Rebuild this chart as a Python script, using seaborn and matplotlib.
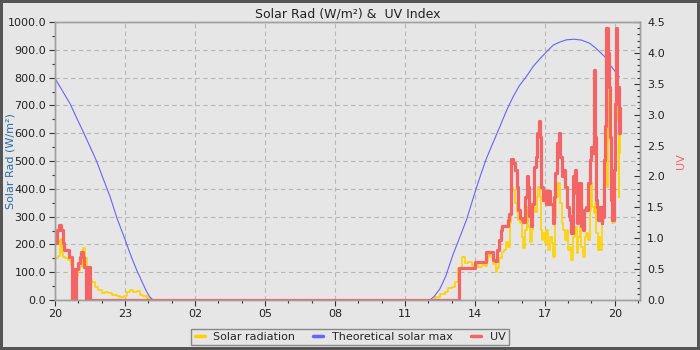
import matplotlib
matplotlib.use("Agg")
import matplotlib.pyplot as plt
import seaborn as sns
from matplotlib.ticker import MultipleLocator, FuncFormatter, FormatStrFormatter
from matplotlib.lines import Line2D

# ---- data (hours after 20:00) ----
solar_t = [0.0, 0.15, 0.22, 0.26, 0.3, 0.36, 0.43, 0.55, 0.64, 0.7, 0.79, 0.9, 1.0, 1.07,
           1.14, 1.21, 1.28, 1.36, 1.43, 1.57, 1.71, 1.86, 2.0, 2.14, 2.29, 2.43, 2.64, 2.79,
           2.96, 3.07, 3.21, 3.36, 3.5, 3.64, 3.79, 3.93, 4.07,
           16.07, 16.29, 16.5, 16.72, 16.86, 17.0, 17.14, 17.29, 17.43, 17.58, 17.72, 17.86,
           17.93, 18.0, 18.15, 18.29, 18.43, 18.5, 18.57, 18.64, 18.79, 18.9, 18.96, 19.05,
           19.15, 19.25, 19.33, 19.43, 19.5, 19.57, 19.65, 19.72, 19.79, 19.86, 19.93, 20.0,
           20.07, 20.15, 20.22, 20.29, 20.36, 20.43, 20.5, 20.57, 20.65, 20.72, 20.79, 20.83,
           20.87, 20.93, 21.0, 21.07, 21.14, 21.22, 21.29, 21.36, 21.43, 21.5, 21.57, 21.65,
           21.72, 21.79, 21.86, 21.93, 22.0, 22.07, 22.14, 22.21, 22.28, 22.36, 22.43, 22.5,
           22.57, 22.64, 22.71, 22.78, 22.86, 22.93, 22.98, 23.04, 23.1, 23.16, 23.21, 23.27,
           23.33, 23.38, 23.44, 23.5, 23.56, 23.61, 23.67, 23.71, 23.76, 23.8, 23.86, 23.9,
           23.96, 24.01, 24.07, 24.13, 24.16, 24.18, 24.21]
solar_w = [150, 160, 215, 218, 170, 156, 150, 145, 140, 126, 78, 85, 107, 119,
           168, 186, 150, 107, 72, 66, 48, 36, 26, 30, 24, 18, 14, 10,
           14, 30, 36, 30, 32, 18, 14, 8, 0,
           0, 12, 20, 30, 42, 46, 66, 114, 154, 134, 137, 125,
           114, 125, 120, 126, 122, 140, 162, 155, 130, 102, 115, 150,
           174, 180, 210, 192, 276, 408, 396, 348, 318, 288, 276, 228,
           186, 252, 336, 264, 210, 252, 336, 318, 372, 408, 372, 252,
           216, 240, 204, 252, 180, 228, 204, 156, 300, 372, 420, 348,
           276, 252, 216, 252, 180, 192, 144, 228, 264, 168, 228, 264,
           192, 156, 228, 240, 216, 324, 420, 336, 312, 348, 240, 180,
           228, 180, 288, 336, 492, 612, 408, 708, 756, 576, 348, 276,
           372, 648, 885, 648, 372, 672, 528]

theo_t = [0.0, 0.3, 0.64, 0.9, 1.21, 1.5, 1.79, 2.05, 2.36, 2.65, 3.01, 3.25, 3.5, 3.75,
          3.93, 4.05, 4.21, 16.07, 16.25, 16.5, 16.75, 17.07, 17.35, 17.64, 17.85, 18.04,
          18.25, 18.5, 18.8, 19.07, 19.35, 19.64, 19.9, 20.2, 20.5, 20.8, 21.1, 21.36,
          21.65, 21.93, 22.25, 22.57, 22.93, 23.2, 23.57, 23.86, 24.19]
theo_w = [797, 755, 707, 660, 605, 552, 498, 440, 372, 296, 216, 160, 108, 62,
          30, 12, 0, 0, 12, 40, 85, 165, 225, 288, 345, 396,
          450, 510, 570, 623, 680, 731, 770, 803, 840, 869, 895, 917,
          928, 936, 938, 935, 923, 905, 875, 839, 803]

uv_t = [0.0, 0.1, 0.16, 0.25, 0.33, 0.38, 0.62, 0.72, 0.8, 0.85, 0.88, 1.0, 1.06, 1.1,
        1.2, 1.25, 1.35, 1.42, 1.52, 17.32, 18.0, 18.47, 18.79, 18.86, 18.96, 19.02, 19.1,
        19.17, 19.4, 19.47, 19.53, 19.57, 19.65, 19.72, 19.79, 19.86, 19.93, 20.0, 20.07,
        20.15, 20.22, 20.26, 20.33, 20.4, 20.47, 20.53, 20.62, 20.67, 20.73, 20.79, 20.83,
        20.9, 21.0, 21.07, 21.14, 21.24, 21.33, 21.39, 21.45, 21.53, 21.59, 21.65, 21.72,
        21.79, 21.87, 21.93, 22.02, 22.07, 22.14, 22.21, 22.28, 22.33, 22.38, 22.43, 22.47,
        22.53, 22.57, 22.64, 22.7, 22.76, 22.81, 22.87, 22.93, 22.98, 23.04, 23.1, 23.14,
        23.18, 23.24, 23.3, 23.36, 23.43, 23.47, 23.53, 23.58, 23.64, 23.7, 23.76, 23.8,
        23.84, 23.9, 23.96, 24.01, 24.07, 24.11, 24.16, 24.18, 24.21]
uv_idx = [0.92, 1.13, 1.21, 1.13, 0.92, 0.81, 0.70, 0.0, 0.5, 0.0, 0.5, 0.6, 0.7, 0.78,
          0.7, 0.53, 0.0, 0.53, 0.0, 0.51, 0.61, 0.77, 0.65, 0.63, 0.81, 0.97, 1.13,
          1.19, 1.3, 1.4, 1.62, 2.29, 2.21, 2.1, 1.83, 1.46, 1.32, 1.30, 1.27,
          1.67, 2.0, 1.83, 1.36, 1.19, 1.56, 2.16, 2.32, 2.7, 2.89, 2.64, 1.83,
          1.62, 1.77, 1.56, 1.77, 1.56, 1.24, 1.67, 2.05, 2.54, 2.7, 2.32, 2.0,
          2.1, 1.83, 1.51, 1.36, 1.29, 1.08, 2.0, 2.1, 1.73, 1.24, 1.51, 1.89,
          1.73, 1.19, 1.13, 1.46, 1.51, 1.46, 1.89, 2.27, 2.48, 2.38, 3.72, 2.64,
          1.62, 1.51, 1.29, 1.51, 1.24, 1.35, 2.27, 2.81, 4.4, 4.0, 3.45, 2.64,
          1.62, 1.29, 2.11, 3.18, 4.4, 3.45, 3.08, 2.7, 3.1]

x_ticks_hours = [20, 23, 2, 5, 8, 11, 14, 17, 20]
series_labels = ["Solar radiation", "Theoretical solar max", "UV"]

# ---- style ----
sns.set_theme(style="ticks")
plt.rcParams['font.family'] = ['DejaVu Sans']

BG = '#e6e6e6'
YELLOW = '#ffd200'
BLUE = '#6464ff'
RED = '#f46464'
GRID = '#b8b8b8'
SPINE = '#a0a0a0'

fig = plt.figure(figsize=(7, 3.5), dpi=100, facecolor=BG)
fig.patch.set_edgecolor('#555555')
fig.patch.set_linewidth(4)

ax = fig.add_axes([55/700, 50/350, 585/700, 278/350])
ax.set_facecolor(BG)
ax.set_axisbelow(True)

sns.lineplot(x=solar_t, y=solar_w, ax=ax, color=YELLOW, linewidth=1.2,
             drawstyle='steps-post', estimator=None, sort=False)
sns.lineplot(x=theo_t, y=theo_w, ax=ax, color=BLUE, linewidth=0.8,
             estimator=None, sort=False)

ax2 = ax.twinx()
sns.lineplot(x=uv_t, y=uv_idx, ax=ax2, color=RED, linewidth=2.3,
             drawstyle='steps-post', estimator=None, sort=False)

ax.set_xlim(0, 25.08)
ax.set_ylim(0, 1000)
ax2.set_ylim(0, 4.5)

ax.xaxis.set_major_locator(MultipleLocator(3))
ax.xaxis.set_minor_locator(MultipleLocator(1))
ax.xaxis.set_major_formatter(FuncFormatter(lambda v, p: f"{x_ticks_hours[int(round(v/3))]:02d}"
                                           if 0 <= int(round(v/3)) < len(x_ticks_hours) else ""))
ax.yaxis.set_major_locator(MultipleLocator(100))
ax.yaxis.set_minor_locator(MultipleLocator(50))
ax.yaxis.set_major_formatter(FormatStrFormatter('%.1f'))
ax2.yaxis.set_major_locator(MultipleLocator(0.5))
ax2.yaxis.set_minor_locator(MultipleLocator(0.1))
ax2.yaxis.set_major_formatter(FormatStrFormatter('%.1f'))

ax.grid(True, which='major', linestyle=(0, (4, 3)), color=GRID, linewidth=0.8)

ax.tick_params(axis='both', which='major', direction='out', length=4.5, width=0.8,
               color='#333333', labelsize=8, labelcolor='#222222', pad=2)
ax.tick_params(axis='both', which='minor', direction='out', length=2.2, width=0.8,
               color='#333333')
ax2.tick_params(axis='y', which='major', direction='in', length=4, width=0.8,
                color='#333333', labelsize=8, labelcolor='#222222', pad=5)
ax2.tick_params(axis='y', which='minor', direction='in', length=2.5, width=0.8,
                color='#333333')

for a in (ax, ax2):
    for s in a.spines.values():
        s.set_visible(True)
        s.set_color(SPINE)
        s.set_linewidth(1.0)

ax.set_xlabel("")
ax.set_ylabel("Solar Rad (W/m²)", color='#2b6ea6', fontsize=8)
ax.yaxis.set_label_coords(-(55 - 16) / 585, 0.5)
ax2.set_ylabel("UV", color=RED, fontsize=8)
ax2.yaxis.set_label_coords((676 - 55) / 585, 0.5)

ax.set_title("Solar Rad (W/m²) &  UV Index", fontsize=9, pad=3, color='#222222')

for a in (ax, ax2):
    if a.get_legend() is not None:
        a.get_legend().remove()

handles = [Line2D([], [], color=c, linewidth=2.5) for c in (YELLOW, BLUE, RED)]
leg = fig.legend(handles, series_labels, loc='center', bbox_to_anchor=(0.5, 13/350),
                 ncol=3, frameon=True, fancybox=False, edgecolor='#888888',
                 facecolor=BG, framealpha=1, fontsize=8, handlelength=0.9,
                 handletextpad=0.8, columnspacing=1.6, borderpad=0.3)
leg.get_frame().set_linewidth(1.0)

fig.savefig("out.png", dpi=100, facecolor=BG, edgecolor=fig.get_edgecolor())
